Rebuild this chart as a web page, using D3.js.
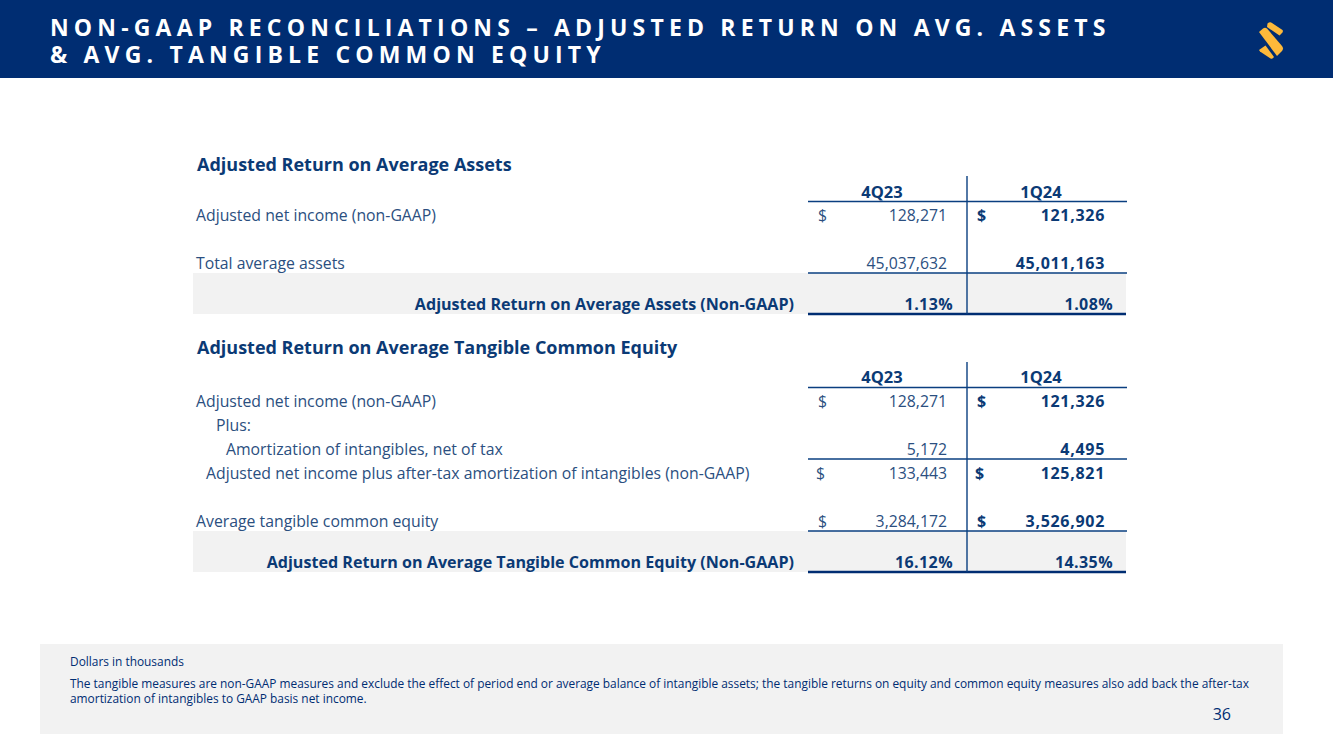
<!DOCTYPE html>
<html><head><meta charset="utf-8">
<script src="https://cdn.jsdelivr.net/npm/d3@7"></script>
<style>html,body{margin:0;padding:0;background:#fff}svg{display:block}text{font-family:"Open Sans",sans-serif}</style>
</head><body><svg id="c" width="1333" height="749"></svg>
<script>
const titleLines = ["NON-GAAP RECONCILIATIONS – ADJUSTED RETURN ON AVG. ASSETS","& AVG. TANGIBLE COMMON EQUITY"];
const periods = ["4Q23","1Q24"];
const sec1Title = "Adjusted Return on Average Assets";
const sec1Rows = [
 {id:"a",label:"Adjusted net income (non-GAAP)",indent:0,dollar:[true,true],v:["128,271","121,326"]},
 {id:"b",label:null},
 {id:"c",label:"Total average assets",indent:0,dollar:[false,false],v:["45,037,632","45,011,163"],rule:true}
];
const sec1Ratio = {label:"Adjusted Return on Average Assets (Non-GAAP)",v:["1.13%","1.08%"]};
const sec2Title = "Adjusted Return on Average Tangible Common Equity";
const sec2Rows = [
 {id:"a",label:"Adjusted net income (non-GAAP)",indent:0,dollar:[true,true],v:["128,271","121,326"]},
 {id:"b",label:"Plus:",indent:2,dollar:[false,false],v:["",""]},
 {id:"c",label:"Amortization of intangibles, net of tax",indent:3,dollar:[false,false],v:["5,172","4,495"],rule:true},
 {id:"d",label:"Adjusted net income plus after-tax amortization of intangibles (non-GAAP)",indent:1,dollar:[true,true],v:["133,443","125,821"]},
 {id:"e",label:null},
 {id:"f",label:"Average tangible common equity",indent:0,dollar:[true,true],v:["3,284,172","3,526,902"],rule:true}
];
const sec2Ratio = {label:"Adjusted Return on Average Tangible Common Equity (Non-GAAP)",v:["16.12%","14.35%"]};
const footLines = ["Dollars in thousands",
 "The tangible measures are non-GAAP measures and exclude the effect of period end or average balance of intangible assets; the tangible returns on equity and common equity measures also add back the after-tax",
 "amortization of intangibles to GAAP basis net income."];
const pageNo = "36";

const navy="#002d72", ink="#0b3a75", body="#2b4f80", gold="#fdb93a";
const svg=d3.select("#c");

// header
svg.append("rect").attr("width",1333).attr("height",78).attr("fill",navy);
svg.selectAll(".tt").data(titleLines).join("text")
  .attr("x",50).attr("y",(d,i)=>36+i*27)
  .attr("fill","#fff").attr("font-size",23).attr("font-weight",700).attr("letter-spacing",5.17).text(d=>d);
svg.append("g").attr("fill",gold).selectAll("path").data([
 "M1267.5,23.5 Q1270,21.5 1272,23 L1282.5,30 Q1283.5,31.5 1282,33 L1279.5,35.5 L1267,27 Z",
 "M1259,32 L1263,28.5 Q1265,27 1267,28.5 L1282,46 Q1284,48.5 1282,51 L1277,56 Z",
 "M1259,50 L1265.5,45.5 L1274,57 Q1272.5,59.5 1270.5,58.5 L1260,51.5 Z"
]).join("path").attr("d",d=>d);

// table columns
const x=d3.scaleBand().domain(periods).range([808,1127]).paddingInner(0);
const mid=967, colR={"4Q23":947,"1Q24":1105}, pctR={"4Q23":953,"1Q24":1113}, dol={"4Q23":818,"1Q24":977};
const colC={"4Q23":882,"1Q24":1041};

function section(title,rows,ratio,o){
  const g=svg.append("g");
  const y=d3.scalePoint().domain(rows.map(r=>r.id)).range([o.first,o.first+24*(rows.length-1)]);
  const last=o.first+24*(rows.length-1);
  const ruleY=last+10, bottom=last+51;
  g.append("rect").attr("x",193).attr("y",ruleY).attr("width",933).attr("height",bottom-ruleY).attr("fill","#f2f2f2");
  g.append("text").attr("x",197).attr("y",o.title+7).attr("fill",ink).attr("font-size",18).attr("font-weight",700).text(title);
  g.selectAll(".ph").data(periods).join("text").attr("x",d=>colC[d]).attr("y",o.head).attr("text-anchor","middle")
    .attr("fill",ink).attr("font-size",16.5).attr("font-weight",700).text(d=>d);
  const data=rows.filter(r=>r.label);
  g.selectAll(".lb").data(data).join("text").attr("x",d=>196+d.indent*10).attr("y",d=>y(d.id)+5.5)
    .attr("fill",body).attr("font-size",15.8).text(d=>d.label);
  periods.forEach((p,pi)=>{
    const w=pi?700:400;
    const sz=pi?16:15.8;
    const ls=pi?0.7:0;
    g.selectAll(".v"+pi).data(data).join("text").attr("x",colR[p]).attr("y",d=>y(d.id)+5.5).attr("text-anchor","end")
      .attr("fill",pi?ink:body).attr("font-size",sz).attr("font-weight",w).attr("letter-spacing",ls).text(d=>d.v[pi]);
    g.selectAll(".d"+pi).data(data.filter(d=>d.dollar[pi])).join("text").attr("x",d=>dol[p]+(d.id==="d"?-2:0)).attr("y",d=>y(d.id)+5.5)
      .attr("fill",pi?ink:body).attr("font-size",sz).attr("font-weight",w).text("$");
    g.append("text").attr("x",pctR[p]).attr("y",bottom-4).attr("text-anchor","end")
      .attr("fill",ink).attr("font-size",16).attr("font-weight",700).attr("letter-spacing",0.4).text(ratio.v[pi]);
  });
  g.append("text").attr("x",794).attr("y",bottom-4).attr("text-anchor","end")
    .attr("fill",ink).attr("font-size",16.1).attr("font-weight",700).text(ratio.label);
  const lines=g.append("g").attr("stroke","#0a3f80");
  const h=[o.first-13.5].concat(rows.filter(r=>r.rule).map(r=>y(r.id)+10));
  lines.selectAll(".h").data(h).join("line").attr("x1",x.range()[0]).attr("x2",x.range()[1]).attr("y1",d=>d).attr("y2",d=>d).attr("stroke-width",1.4);
  lines.append("line").attr("x1",x.range()[0]).attr("x2",x.range()[1]-1).attr("y1",bottom).attr("y2",bottom).attr("stroke",navy).attr("stroke-width",2.4);
  lines.append("line").attr("x1",mid).attr("x2",mid).attr("y1",o.first-39).attr("y2",bottom).attr("stroke-width",1.4);
}
section(sec1Title,sec1Rows,sec1Ratio,{title:164,head:198,first:215});
section(sec2Title,sec2Rows,sec2Ratio,{title:347,head:383,first:401});

// footer
svg.append("rect").attr("x",40).attr("y",644).attr("width",1243).attr("height",90).attr("fill","#f2f2f2");
svg.selectAll(".fn").data(footLines).join("text").attr("x",70).attr("y",(d,i)=>[666,688,703][i])
  .attr("fill",navy).attr("font-size",11.9).text(d=>d);
svg.append("text").attr("x",1231).attr("y",720).attr("text-anchor","end").attr("fill",navy).attr("font-size",16).text(pageNo);
</script></body></html>
